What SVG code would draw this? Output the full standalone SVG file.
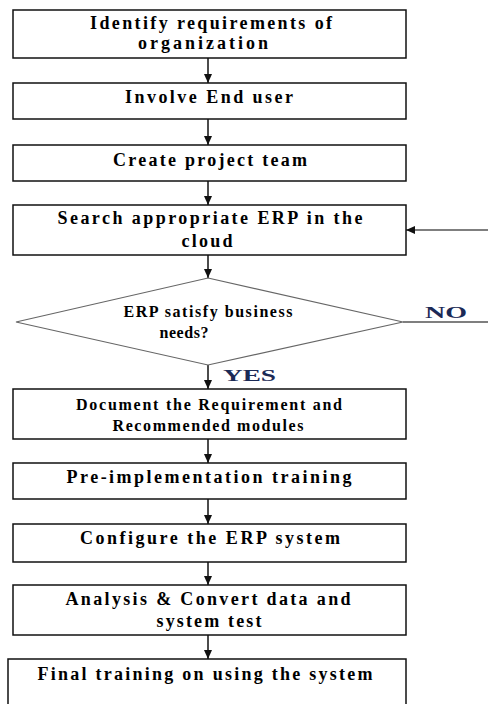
<svg xmlns="http://www.w3.org/2000/svg" width="488" height="704" viewBox="0 0 488 704">
<defs>
<style>
.box{fill:#fff;stroke:#111;stroke-width:1.5}
.dia{fill:#fff;stroke:#666;stroke-width:1.2}
.t{font-family:'Liberation Serif','DejaVu Serif','Times New Roman',serif;font-weight:bold;font-size:18px;fill:#000;text-anchor:middle}
.s{font-size:16px}
.lab{font-family:'Liberation Serif','DejaVu Serif','Times New Roman',serif;font-weight:bold;font-size:17px;fill:#1b2a56}
.c{stroke:#111;stroke-width:1.5;fill:none}
.g{stroke:#555;stroke-width:1.5;fill:none}
</style>
<marker id="ah" markerUnits="userSpaceOnUse" markerWidth="9" markerHeight="8" refX="9" refY="4" orient="auto">
<path d="M0,0 L9,4 L0,8 z" fill="#111"/>
</marker>
</defs>
<rect width="488" height="704" fill="#fff"/>

<g id="connectors">
<line class="c" x1="208" y1="58" x2="208" y2="83" marker-end="url(#ah)"/>
<line class="c" x1="208" y1="119" x2="208" y2="145" marker-end="url(#ah)"/>
<line class="c" x1="208" y1="181" x2="208" y2="205" marker-end="url(#ah)"/>
<line class="c" x1="208" y1="255" x2="208" y2="278" marker-end="url(#ah)"/>
<line class="c" x1="208" y1="365" x2="208" y2="389" marker-end="url(#ah)"/>
<line class="c" x1="208" y1="439" x2="208" y2="463" marker-end="url(#ah)"/>
<line class="c" x1="208" y1="499" x2="208" y2="524" marker-end="url(#ah)"/>
<line class="c" x1="208" y1="562" x2="208" y2="585" marker-end="url(#ah)"/>
<line class="c" x1="208" y1="635" x2="208" y2="659" marker-end="url(#ah)"/>
<line class="g" x1="403" y1="322" x2="488" y2="322"/>
<line class="g" x1="488" y1="230" x2="406" y2="230" marker-end="url(#ah)"/>
<text class="lab" x="425" y="318" textLength="42" lengthAdjust="spacingAndGlyphs">NO</text>
<text class="lab" x="223" y="381" textLength="53" lengthAdjust="spacingAndGlyphs">YES</text>
</g>

<g id="n1">
<rect class="box" x="13" y="10" width="393" height="48"/>
<text class="t" x="211" y="29" textLength="242" lengthAdjust="spacing">Identify requirements of</text>
<text class="t" x="203" y="49" textLength="130" lengthAdjust="spacing">organization</text>
</g>
<g id="n2">
<rect class="box" x="13" y="83" width="393" height="36"/>
<text class="t" x="209" y="103" textLength="168" lengthAdjust="spacing">Involve End user</text>
</g>
<g id="n3">
<rect class="box" x="13" y="145" width="393" height="36"/>
<text class="t" x="210" y="166" textLength="194" lengthAdjust="spacing">Create project team</text>
</g>
<g id="n4">
<rect class="box" x="13" y="205" width="393" height="50"/>
<text class="t" x="210" y="224" textLength="305" lengthAdjust="spacing">Search appropriate ERP in the</text>
<text class="t" x="207" y="247" textLength="51" lengthAdjust="spacing">cloud</text>
</g>
<g id="n5">
<polygon class="dia" points="208,278 403,322 208,365 16,322"/>
<text class="t s" x="208" y="317" textLength="169" lengthAdjust="spacing">ERP satisfy  business</text>
<text class="t s" x="184" y="338" textLength="49" lengthAdjust="spacing">needs?</text>
</g>
<g id="n6">
<rect class="box" x="13" y="389" width="393" height="50"/>
<text class="t s" x="209" y="410" textLength="266" lengthAdjust="spacing">Document the Requirement and</text>
<text class="t s" x="208" y="431" textLength="191" lengthAdjust="spacing">Recommended modules</text>
</g>
<g id="n7">
<rect class="box" x="13" y="463" width="393" height="36"/>
<text class="t" x="209" y="483" textLength="285" lengthAdjust="spacing">Pre-implementation training</text>
</g>
<g id="n8">
<rect class="box" x="13" y="524" width="393" height="38"/>
<text class="t" x="210" y="544" textLength="260" lengthAdjust="spacing">Configure the ERP system</text>
</g>
<g id="n9">
<rect class="box" x="13" y="585" width="393" height="50"/>
<text class="t" x="208" y="605" textLength="285" lengthAdjust="spacing">Analysis &amp; Convert data and</text>
<text class="t" x="209" y="627" textLength="105" lengthAdjust="spacing">system test</text>
</g>
<g id="n10">
<rect class="box" x="8" y="659" width="398" height="60"/>
<text class="t" x="205" y="680" textLength="335" lengthAdjust="spacing">Final training on using the system</text>
</g>
</svg>
